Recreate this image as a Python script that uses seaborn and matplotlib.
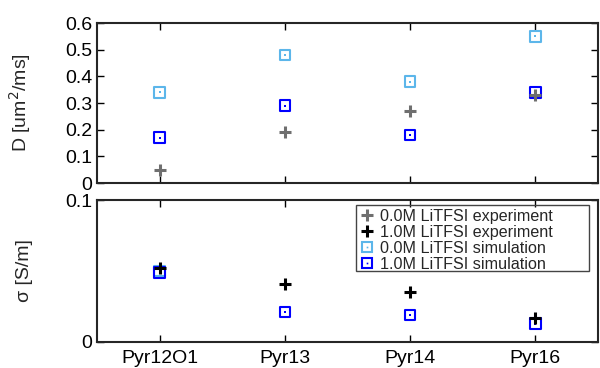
import matplotlib
matplotlib.use("Agg")
import matplotlib.pyplot as plt
from matplotlib.lines import Line2D
from matplotlib.patches import Rectangle
import seaborn as sns

# categories
ionic_liquids = ["Pyr12O1", "Pyr13", "Pyr14", "Pyr16"]
xpos = [0, 1, 2, 3]

# diffusion coefficient D [um^2/ms]
D_exp_00 = [0.05, 0.19, 0.27, 0.33]
D_sim_00 = [0.34, 0.48, 0.38, 0.55]
D_sim_10 = [0.17, 0.29, 0.18, 0.34]

# conductivity sigma [S/m]
s_exp_10 = [0.052, 0.041, 0.035, 0.017]
s_sim_00_x = [0]
s_sim_00 = [0.050]
s_sim_10 = [0.049, 0.021, 0.019, 0.013]

sns.set_style("ticks")
plt.rcParams['font.family'] = ['Liberation Sans', 'DejaVu Sans']
plt.rcParams['axes.linewidth'] = 1.5

c_gray = "#6f6f6f"
c_black = "#000000"
c_light = "#5cb6ea"
c_blue = "#0000ff"

fig = plt.figure(figsize=(6, 3.68), dpi=100)
ax1 = fig.add_axes([0.1617, 0.5027, 0.835, 0.4348])
ax2 = fig.add_axes([0.1617, 0.0707, 0.835, 0.3858])


def plus(ax, x, y, col):
    sns.scatterplot(x=x, y=y, ax=ax, marker="+", s=75, color=col, linewidth=2.2, zorder=3)


def square(ax, x, y, col):
    sns.scatterplot(x=x, y=y, ax=ax, marker="s", s=58, facecolor="none",
                    edgecolor=col, linewidth=1.5, zorder=3)
    sns.scatterplot(x=x, y=y, ax=ax, marker="s", s=2, color=col, linewidth=0, zorder=3)


# top: diffusion
square(ax1, xpos, D_sim_00, c_light)
square(ax1, xpos, D_sim_10, c_blue)
plus(ax1, xpos, D_exp_00, c_gray)

# bottom: conductivity
square(ax2, s_sim_00_x, s_sim_00, c_light)
square(ax2, xpos, s_sim_10, c_blue)
plus(ax2, xpos, s_exp_10, c_black)

for ax in (ax1, ax2):
    ax.set_xlim(-0.5, 3.5)
    ax.set_xticks(xpos)
    ax.tick_params(direction="in", top=True, right=True, length=5, width=1,
                   labelsize=14, colors="#000000")
    ax.set_xlabel("")

ax1.set_ylim(0, 0.6)
ax1.set_yticks([0, 0.1, 0.2, 0.3, 0.4, 0.5, 0.6])
ax1.set_yticklabels(["0", "0.1", "0.2", "0.3", "0.4", "0.5", "0.6"])
ax1.set_xticklabels([])
ax1.set_ylabel("D [um$^2$/ms]", fontsize=14)
ax1.yaxis.set_label_coords(-0.128, 0.5)

ax2.set_ylim(0, 0.1)
ax2.set_yticks([0, 0.1])
ax2.set_yticklabels(["0", "0.1"])
ax2.set_xticklabels(ionic_liquids)
ax2.tick_params(axis="x", pad=6)
ax2.set_ylabel("σ [S/m]", fontsize=14)
ax2.yaxis.set_label_coords(-0.128, 0.5)


def sq_handle(col):
    return (Line2D([], [], ls="", marker="s", ms=7.5, mfc="none", mec=col, mew=1.5),
            Line2D([], [], ls="", marker="s", ms=1.2, color=col, mew=0))


handles = [Line2D([], [], ls="", marker="+", ms=9, mew=2.2, color=c_gray),
           Line2D([], [], ls="", marker="+", ms=9, mew=2.2, color=c_black),
           sq_handle(c_light), sq_handle(c_blue)]
labels = ["0.0M LiTFSI experiment", "1.0M LiTFSI experiment",
          "0.0M LiTFSI simulation", "1.0M LiTFSI simulation"]
leg = ax2.legend(handles, labels, loc="upper left", bbox_to_anchor=(0.524, 0.95),
                 borderaxespad=0, fontsize=11.6, frameon=False,
                 handlelength=0.7, handletextpad=0.45, labelspacing=0.07,
                 borderpad=0.1)
ax2.add_patch(Rectangle((0.517, 0.5), 0.465, 0.465, transform=ax2.transAxes,
                        fill=False, edgecolor="#444444", linewidth=1.0, zorder=4))

fig.savefig("out.png", dpi=100)
